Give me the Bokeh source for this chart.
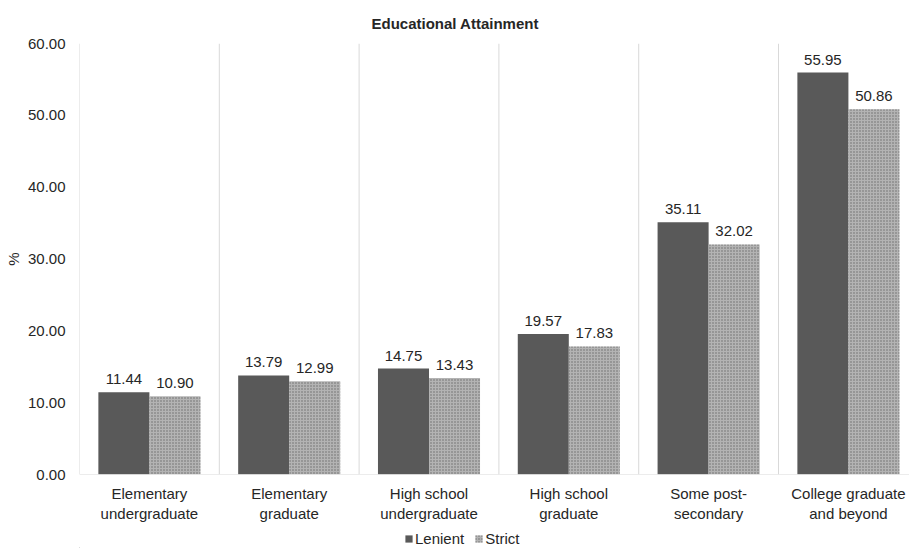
from bokeh.plotting import figure
from bokeh.layouts import column
from bokeh.models import (ColumnDataSource, FixedTicker, Legend, LegendItem,
                          Span, Title, CustomJSTickFormatter)
from bokeh.core.properties import value
from bokeh.embed import file_html
from bokeh.resources import INLINE

categories = ["Elementary\nundergraduate", "Elementary\ngraduate",
              "High school\nundergraduate", "High school\ngraduate",
              "Some post-\nsecondary", "College graduate\nand beyond"]
lenient = [11.44, 13.79, 14.75, 19.57, 35.11, 55.95]
strict = [10.90, 12.99, 13.43, 17.83, 32.02, 50.86]
y_ticks = [0, 10, 20, 30, 40, 50, 60]
series = ["Lenient", "Strict"]

FONT = "Liberation Sans"
TXT = "#262626"
FS = "15px"
BAR_W = 0.365
LEN_STYLE = dict(fill_color="#595959", line_color=None)
STR_STYLE = dict(fill_color="#b3b3b3", line_color=None, hatch_pattern="dot",
                 hatch_color="#6a6a6a", hatch_scale=3, hatch_weight=1,
                 hatch_alpha=1.0)

n = len(categories)
centers = [i + 0.5 for i in range(n)]
src = ColumnDataSource(dict(
    xl=[c - BAR_W / 2 for c in centers],
    xs=[c + BAR_W / 2 for c in centers],
    lenient=lenient, strict=strict,
    ll=[f"{v:.2f}" for v in lenient],
    sl=[f"{v:.2f}" for v in strict],
))

p = figure(width=909, height=528, output_backend="svg", toolbar_location=None,
           x_range=(0, 5.937), y_range=(0, 60),
           min_border_left=79, min_border_right=0, min_border_top=43,
           min_border_bottom=54)
p.outline_line_color = None
p.background_fill_color = "white"
p.border_fill_color = "white"

p.title = Title(text="Educational Attainment", align="left",
                vertical_align="top",
                text_font=FONT, text_font_size=FS, text_font_style="bold",
                text_color=TXT, offset=292, standoff=20)

p.xgrid.grid_line_color = None
p.ygrid.grid_line_color = None

# category separators
for b in range(0, n + 1):
    p.add_layout(Span(location=b, dimension="height", line_color="#d9d9d9",
                      line_width=1))
p.add_layout(Span(location=0, dimension="width", line_color="#d9d9d9",
                  line_width=1))

p.vbar(x="xl", top="lenient", width=BAR_W, bottom=0, source=src, **LEN_STYLE)
p.vbar(x="xs", top="strict", width=BAR_W, bottom=0, source=src, **STR_STYLE)

p.text(x="xl", y="lenient", text="ll", source=src, text_align="center",
       text_baseline="bottom", y_offset=-8, text_font=value(FONT),
       text_font_size=FS, text_color=TXT)
p.text(x="xs", y="strict", text="sl", source=src, text_align="center",
       text_baseline="bottom", y_offset=-8, text_font=value(FONT),
       text_font_size=FS, text_color=TXT)

# axes
for ax in (p.xaxis, p.yaxis):
    ax.axis_line_color = None
    ax.major_tick_line_color = None
    ax.minor_tick_line_color = None
    ax.major_tick_out = 0
    ax.major_tick_in = 0
    ax.minor_tick_out = 0
    ax.minor_tick_in = 0
    ax.major_label_text_font = FONT
    ax.major_label_text_font_size = FS
    ax.major_label_text_color = TXT

p.xaxis.ticker = FixedTicker(ticks=centers)
p.xaxis.major_label_overrides = {c: lab for c, lab in zip(centers, categories)}
p.xaxis.major_label_standoff = 10

p.yaxis.ticker = FixedTicker(ticks=y_ticks)
p.yaxis.formatter = CustomJSTickFormatter(code="return tick.toFixed(2);")
p.yaxis.major_label_standoff = 14
p.yaxis.axis_label = "%"
p.yaxis.axis_label_text_font = FONT
p.yaxis.axis_label_text_font_size = FS
p.yaxis.axis_label_text_font_style = "normal"
p.yaxis.axis_label_text_color = TXT
p.yaxis.axis_label_standoff = 3

# legend strip under the chart (its frame lines up with the chart's frame)
leg = figure(width=909, height=20, output_backend="svg", toolbar_location=None,
             x_range=(0, 830), y_range=(0, 20), min_border=0)
leg.outline_line_color = None
leg.axis.visible = False
leg.grid.visible = False
sw_src = ColumnDataSource(dict(x=[-50], top=[1]))
r_len = leg.vbar(x="x", top="top", width=1, source=sw_src, **LEN_STYLE)
r_str = leg.vbar(x="x", top="top", width=1, source=sw_src, **STR_STYLE)
legend = Legend(items=[LegendItem(label=series[0], renderers=[r_len]),
                       LegendItem(label=series[1], renderers=[r_str])],
                orientation="horizontal", location=(325, 1),
                label_text_font=FONT, label_text_font_size=FS,
                label_text_color=TXT, glyph_width=9, glyph_height=9,
                spacing=10, label_standoff=2, padding=0, margin=0,
                label_height=17, border_line_color=None,
                background_fill_alpha=0)
leg.add_layout(legend, "center")

open("out.html", "w").write(file_html(column(p, leg, spacing=0), INLINE))
